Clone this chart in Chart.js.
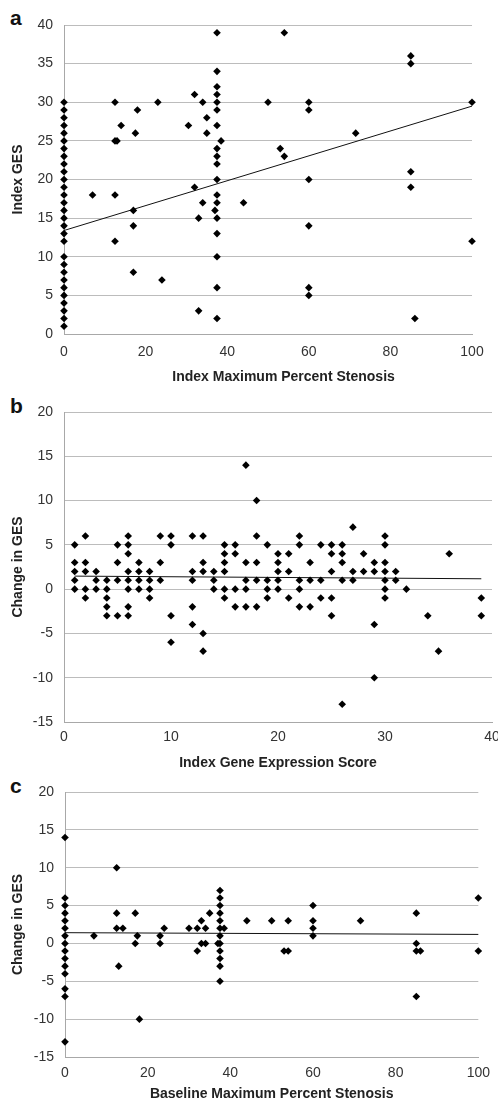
<!DOCTYPE html>
<html>
<head>
<meta charset="utf-8">
<script src="https://cdn.jsdelivr.net/npm/chart.js@4.4.1/dist/chart.umd.min.js"></script>
<style>
    html, body { margin: 0; padding: 0; background: #fff; overflow: hidden; width: 498px; height: 1103px; }
    canvas { position: absolute; left: 0; }
    .panel-letter { position: absolute; left: 10px; font: bold 21px 'Liberation Sans', Arial, sans-serif; line-height: 21px; color: #111; }
</style>
</head>
<body>
<div class="panel-letter" style="top:7px">a</div>
<div class="panel-letter" style="top:395px">b</div>
<div class="panel-letter" style="top:775px">c</div>
<canvas id="chartA" width="498" height="386" style="top:0"></canvas>
<canvas id="chartB" width="520" height="386" style="top:386px"></canvas>
<canvas id="chartC" width="498" height="331" style="top:772px"></canvas>
<script>
// panel a: index stenosis vs index GES
var aX = [0,0,0,0,0,0,0,0,0,0,0,0,0,0,0,0,0,0,0,0,0,0,0,0,0,0,0,0,0,
    7,12.5,12.5,13,14,12.5,12.5,18,17.5,17,17,17,23,24,30.5,32,34,35,35,32,34,33,33,37,
    37.5,37.5,37.5,37.5,37.5,37.5,37.5,37.5,37.5,37.5,37.5,37.5,37.5,37.5,37.5,37.5,37.5,37.5,
    38.5,44,50,54,53,54,60,60,60,60,60,60,71.5,85,85,85,85,86,100,100];
var aY = [1,2,3,4,5,6,7,8,9,10,12,13,14,15,16,17,18,19,20,21,22,23,24,25,26,27,28,29,30,
    18,30,25,25,27,18,12,29,26,16,14,8,30,7,27,31,30,28,26,19,17,15,3,16,
    39,34,32,31,30,29,27,24,23,22,20,18,17,15,13,10,6,2,
    25,17,30,39,24,23,30,29,20,14,6,5,26,36,35,21,19,2,30,12];
var aTrendX = [0, 100];
var aTrendY = [13.4, 29.5];

// panel b: index GES vs change in GES
var bX = [1,1,1,1,1, 2,2,2,2,2, 3,3,3, 4,4,4,4,4, 5,5,5,5, 6,6,6,6,6,6,6,6, 7,7,7,7, 8,8,8,8, 9,9,9,
    10,10,10,10, 12,12,12,12,12, 13,13,13,13,13, 14,14,14, 15,15,15,15,15,15, 16,16,16,16,
    17,17,17,17,17, 18,18,18,18,18, 19,19,19,19, 20,20,20,20,20, 21,21,21, 22,22,22,22,22,
    23,23,23, 24,24,24, 25,25,25,25,25, 26,26,26,26,26, 27,27,27, 28,28, 29,29,29,29,
    30,30,30,30,30,30,30, 31,31, 32, 34, 35, 36, 39,39];
var bY = [5,3,2,1,0, 6,3,2,0,-1, 2,1,0, 1,0,-1,-2,-3, 5,3,1,-3, 6,5,4,2,1,0,-2,-3, 3,2,1,0, 2,1,0,-1, 6,3,1,
    6,5,-3,-6, 6,2,1,-2,-4, 6,3,2,-5,-7, 2,1,0, 5,4,3,2,0,-1, 5,4,0,-2,
    14,3,1,0,-2, 10,6,3,1,-2, 5,1,0,-1, 4,3,2,1,0, 4,2,-1, 6,5,1,0,-2,
    3,1,-2, 5,1,-1, 5,4,2,-1,-3, 5,4,3,1,-13, 7,2,1, 4,2, 3,2,-4,-10,
    6,5,3,2,1,0,-1, 2,1, 0, -3, -7, 4, -1,-3];
var bTrendX = [1, 39];
var bTrendY = [1.47, 1.17];

// panel c: baseline stenosis vs change in GES
var cX = [0,0,0,0,0,0,0,0,0,0,0,0,0,0,0,
    7,12.5,12.5,12.5,14,13,17,17.5,17,18,23,23,24,30,32,32,33,33,34,34,35,
    37.5,37.5,37.5,37.5,37.5,37.5,37.5,37.5,37.5,37.5,37.5,37.5,
    37,38.5,44,50,54,53,54,60,60,60,60,71.5,85,85,85,86,85,100,100];
var cY = [14,6,5,4,3,2,1,0,-1,-2,-3,-4,-6,-7,-13,
    1,10,4,2,2,-3,4,1,0,-10,1,0,2,2,2,-1,3,0,0,2,4,
    7,6,5,4,3,2,1,0,-1,-2,-3,-5,
    0,2,3,3,3,-1,-1,5,3,2,1,3,4,0,-1,-1,-7,6,-1];
var cTrendX = [0, 100];
var cTrendY = [1.42, 1.19];

var FONT = "'Liberation Sans', Arial, sans-serif";
var GRID = '#bcbcbc';

function toPoints(xs, ys) {
    return xs.map(function (x, i) { return { x: x, y: ys[i] }; });
}

function renderPanel(canvasId, opts) {
    var ctx = document.getElementById(canvasId);
    if (!ctx) return;

    new Chart(ctx, {
        type: 'scatter',
        data: {
            datasets: [
                { data: toPoints(opts.xs, opts.ys), clip: false, pointStyle: 'rectRot', pointRadius: 3.8, backgroundColor: '#000', borderColor: '#000', borderWidth: 0 },
                { data: toPoints(opts.trendX, opts.trendY), clip: false, showLine: true, borderColor: '#111', borderWidth: 1, pointRadius: 0, fill: false }
            ]
        },
        options: {
            responsive: false, animation: false,
            layout: { padding: { left: 0, top: opts.padTop, right: opts.padRight, bottom: 0 } },
            plugins: { legend: { display: false }, tooltip: { enabled: false } },
            scales: {
                x: {
                    type: 'linear', min: opts.xMin, max: opts.xMax,
                    afterFit: function (s) { s.height = opts.xHeight; },
                    grid: { display: false, drawTicks: false },
                    border: { display: true, color: '#a8a8a8', width: 1 },
                    ticks: { stepSize: opts.xStep, padding: opts.xTickPad, color: '#333', font: { family: FONT, size: 14 } },
                    title: { display: true, text: opts.xTitle, color: '#222', padding: { top: 0, bottom: 0 }, font: { family: FONT, size: 14, weight: 'bold' } }
                },
                y: {
                    type: 'linear', min: opts.yMin, max: opts.yMax,
                    afterFit: function (s) { s.width = opts.yWidth; },
                    grid: { color: GRID, lineWidth: 1, drawTicks: false },
                    border: { display: true, color: '#a8a8a8', width: 1 },
                    ticks: { stepSize: 5, padding: 11, color: '#333', font: { family: FONT, size: 14 } },
                    title: { display: true, text: opts.yTitle, color: '#222', padding: { top: 10, bottom: 0 }, font: { family: FONT, size: 14, weight: 'bold' } }
                }
            }
        }
    });
}

renderPanel('chartA', {
    xs: aX, ys: aY, trendX: aTrendX, trendY: aTrendY,
    xMin: 0, xMax: 100, xStep: 20, yMin: 0, yMax: 40,
    padTop: 25, padRight: 26, xHeight: 52, yWidth: 64, xTickPad: 10,
    xTitle: '        Index Maximum Percent Stenosis', yTitle: 'Index GES'
});

renderPanel('chartB', {
    xs: bX, ys: bY, trendX: bTrendX, trendY: bTrendY,
    xMin: 0, xMax: 40, xStep: 10, yMin: -15, yMax: 20,
    padTop: 26, padRight: 28, xHeight: 50, yWidth: 64, xTickPad: 7,
    xTitle: 'Index Gene Expression Score', yTitle: 'Change in GES'
});

renderPanel('chartC', {
    xs: cX, ys: cY, trendX: cTrendX, trendY: cTrendY,
    xMin: 0, xMax: 100, xStep: 20, yMin: -15, yMax: 20,
    padTop: 20, padRight: 16, xHeight: 46, yWidth: 65, xTickPad: 8,
    xTitle: 'Baseline Maximum Percent Stenosis', yTitle: 'Change in GES'
});
</script>
</body>
</html>
